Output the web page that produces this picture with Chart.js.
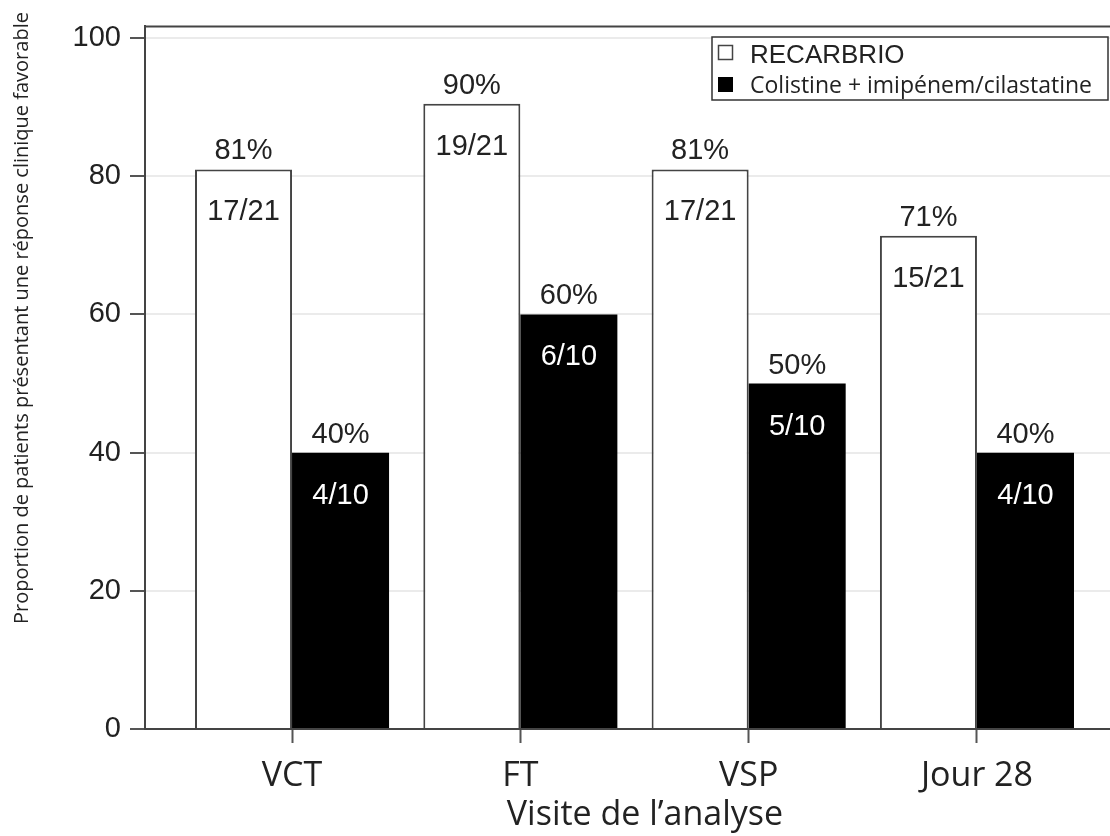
<!DOCTYPE html>
<html>
<head>
<meta charset="utf-8">
<script src="https://cdn.jsdelivr.net/npm/chart.js@4"></script>
<style>
  html, body { margin: 0; padding: 0; background: #fff; overflow: hidden; }
  #wrap { width: 1145px; height: 836px; }
</style>
</head>
<body>
<div id="wrap"><canvas id="chart"></canvas></div>
<script>
// data
const categories = ["VCT", "FT", "VSP", "Jour 28"];
const recarbrioValues = [81, 90.5, 81, 71.4];
const colistineValues = [40, 60, 50, 40];
const recarbrioPct = ["81%", "90%", "81%", "71%"];
const colistinePct = ["40%", "60%", "50%", "40%"];
const recarbrioFrac = ["17/21", "19/21", "17/21", "15/21"];
const colistineFrac = ["4/10", "6/10", "5/10", "4/10"];
const yTicks = [0, 20, 40, 60, 80, 100];

const seriesNames = ["RECARBRIO", "Colistine + imipénem/cilastatine"];
const xTitle = "Visite de l\u2019analyse";
const yTitle = "Proportion de patients présentant une réponse clinique favorable";

const pctLabels = [recarbrioPct, colistinePct];
const fracLabels = [recarbrioFrac, colistineFrac];

// labels above / inside the bars
const barLabels = {
  id: "barLabels",
  afterDatasetsDraw(chart) {
    const ctx = chart.ctx;
    ctx.save();
    ctx.textAlign = "center";
    ctx.textBaseline = "alphabetic";
    ctx.font = "29px 'Liberation Sans', Arial, sans-serif";
    chart.data.datasets.forEach((ds, di) => {
      const meta = chart.getDatasetMeta(di);
      meta.data.forEach((bar, i) => {
        ctx.fillStyle = "#222";
        ctx.fillText(pctLabels[di][i], bar.x, bar.y - 10);
        ctx.fillStyle = di === 0 ? "#222" : "#fff";
        ctx.fillText(fracLabels[di][i], bar.x, bar.y + 51);
      });
    });
    ctx.restore();
  }
};

// top frame line, legend box and rotated y title
const extras = {
  id: "extras",
  afterDraw(chart) {
    const ctx = chart.ctx;
    const a = chart.chartArea;
    ctx.save();
    ctx.strokeStyle = "#444";
    ctx.lineWidth = 2;
    ctx.beginPath();
    ctx.moveTo(a.left, a.top);
    ctx.lineTo(a.right, a.top);
    ctx.stroke();

    // legend
    ctx.fillStyle = "#fff";
    ctx.fillRect(712, 37, 396, 63);
    ctx.strokeStyle = "#333";
    ctx.lineWidth = 1.5;
    ctx.strokeRect(712, 37, 396, 63);
    ctx.strokeStyle = "#444";
    ctx.strokeRect(718.5, 45.5, 14, 14);
    ctx.fillStyle = "#000";
    ctx.fillRect(718, 77, 15, 15);
    ctx.fillStyle = "#222";
    ctx.textAlign = "left";
    ctx.textBaseline = "alphabetic";
    ctx.font = "26px 'Liberation Sans', Arial, sans-serif";
    ctx.fillText(seriesNames[0], 750, 63);
    ctx.font = "23px 'Open Sans', sans-serif";
    ctx.fillText(seriesNames[1], 750, 93);

    // y title
    ctx.translate(22, 318);
    ctx.rotate(-Math.PI / 2);
    ctx.textAlign = "center";
    ctx.textBaseline = "middle";
    ctx.font = "20px 'Open Sans', sans-serif";
    ctx.fillStyle = "#222";
    ctx.fillText(yTitle, 0, 0);
    ctx.restore();
  }
};

new Chart(document.getElementById("chart"), {
  type: "bar",
  data: {
    datasets: [
      {
        label: seriesNames[0],
        data: recarbrioValues.map((v, i) => ({ x: i, y: v })),
        backgroundColor: "#fff",
        borderColor: "#444",
        borderWidth: 2,
        borderSkipped: "bottom"
      },
      {
        label: seriesNames[1],
        data: colistineValues.map((v, i) => ({ x: i, y: v })),
        backgroundColor: "#000",
        borderColor: "#000",
        borderWidth: 0
      }
    ]
  },
  options: {
    responsive: true,
    maintainAspectRatio: false,
    animation: false,
    categoryPercentage: 0.85,
    barPercentage: 1,
    layout: { padding: { top: 26, left: 0, right: 0, bottom: 0 } },
    plugins: {
      legend: { display: false },
      tooltip: { enabled: false }
    },
    scales: {
      x: {
        type: "linear",
        min: -0.644,
        max: 3.736,
        offset: false,
        afterBuildTicks: (s) => { s.ticks = categories.map((c, i) => ({ value: i })); },
        afterFit: (s) => { s.height = 107; },
        grid: {
          offset: false,
          drawOnChartArea: false,
          drawTicks: true,
          tickLength: 14,
          tickColor: "#555",
          tickWidth: 2
        },
        border: { color: "#444", width: 2 },
        ticks: {
          autoSkip: false,
          maxRotation: 0,
          padding: 13,
          color: "#222",
          font: { family: "'Open Sans', sans-serif", size: 34 },
          callback: (v) => categories[v]
        },
        title: {
          display: true,
          text: xTitle,
          color: "#222",
          font: { family: "'Open Sans', sans-serif", size: 34 },
          padding: { top: 0, bottom: 0 }
        }
      },
      y: {
        min: 0,
        max: 101.7,
        afterBuildTicks: (s) => { s.ticks = yTicks.map((v) => ({ value: v })); },
        afterFit: (s) => { s.width = 145; },
        grid: {
          color: (c) => (c.tick && c.tick.value === 0 ? "rgba(0,0,0,0)" : "#ebebeb"),
          lineWidth: 2,
          drawTicks: true,
          tickLength: 15,
          tickColor: "#555",
          tickWidth: 2
        },
        border: { color: "#444", width: 2 },
        ticks: {
          padding: 9,
          color: "#222",
          font: { family: "'Liberation Sans', Arial, sans-serif", size: 29 }
        }
      }
    }
  },
  plugins: [barLabels, extras]
});
</script>
</body>
</html>
